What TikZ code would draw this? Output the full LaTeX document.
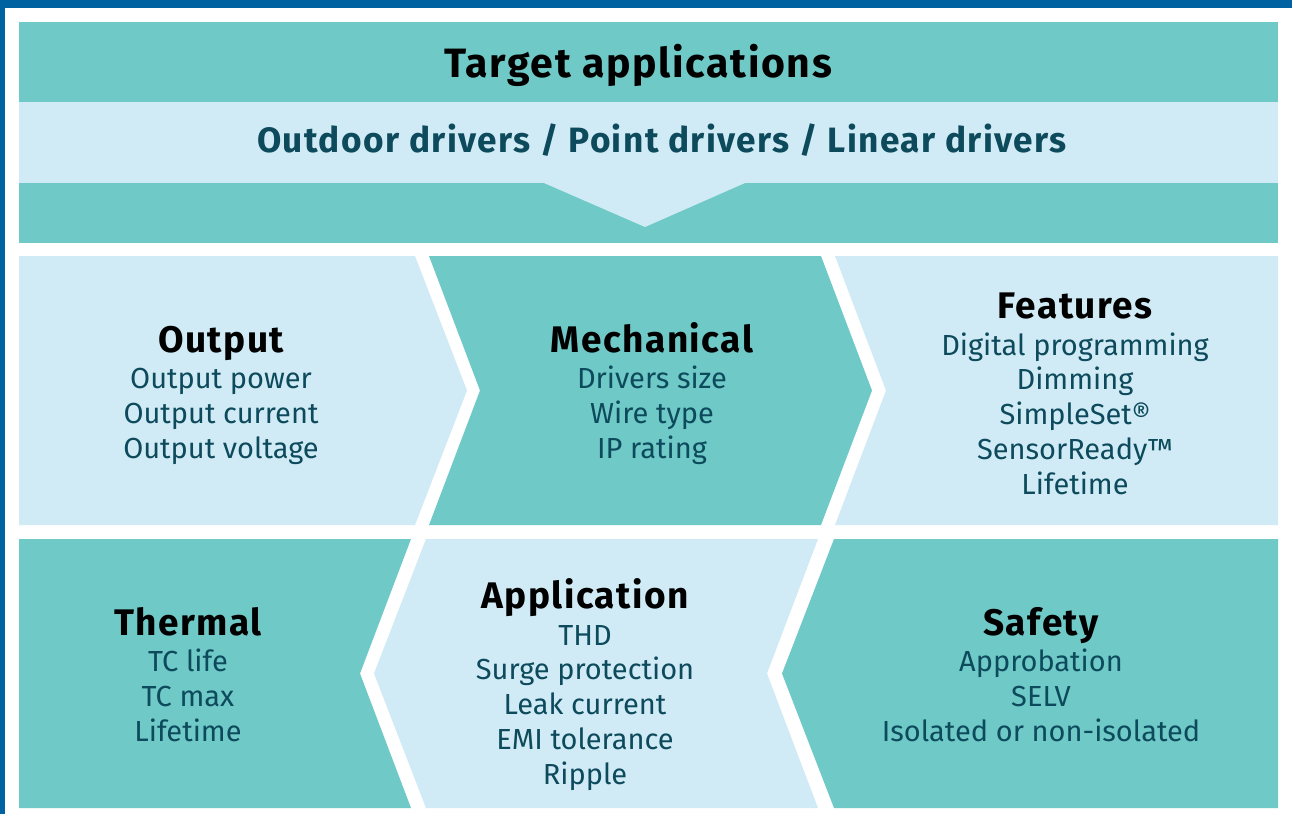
\documentclass[tikz,border=0pt]{standalone}
\usepackage{fontspec}
\setmainfont{Fira Sans}[BoldFeatures={LetterSpace=4}]
\usetikzlibrary{positioning}

\definecolor{teal}{HTML}{6FC9C7}
\definecolor{pale}{HTML}{D0EBF5}
\definecolor{frame}{HTML}{0062A0}
\definecolor{ink}{HTML}{0C4A5C}

\tikzset{
    head/.style={font=\fontsize{37}{40}\selectfont\bfseries, text=black, anchor=base},
    items/.style={font=\fontsize{29}{34.7}\selectfont, text=ink, align=center, anchor=base},
}

\begin{document}
\begin{tikzpicture}[x=1pt,y=-1pt]
        \useasboundingbox (0,0) rectangle (1292,814);
        \fill[white] (0,0) rectangle (1292,814);
        \fill[frame] (0,0) rectangle (1292,8);
        \fill[frame] (0,0) rectangle (5,814);

        \fill[teal] (19,22) rectangle (1278,102);
        \fill[pale] (19,102) rectangle (1278,183);
        \fill[teal] (19,183) rectangle (1278,243);
        \fill[pale] (544,183) -- (645,227) -- (745,183) -- cycle;

        \fill[pale] (19,256) -- (415,256) -- (467,390.5) -- (415,525) -- (19,525) -- cycle;
        \fill[teal] (429,256) -- (821,256) -- (872,390.5) -- (821,525) -- (429,525) -- (480,390.5) -- cycle;
        \fill[pale] (835,256) -- (1278,256) -- (1278,525) -- (835,525) -- (886,390.5) -- cycle;

        \fill[teal] (19,539) -- (411,539) -- (360,673.5) -- (411,808) -- (19,808) -- cycle;
        \fill[pale] (426,539) -- (818,539) -- (767,673.5) -- (818,808) -- (426,808) -- (374,673.5) -- cycle;
        \fill[teal] (834,539) -- (1278,539) -- (1278,808) -- (834,808) -- (782,673.5) -- cycle;

        \node[head, font=\fontsize{41}{44}\selectfont\bfseries] (title) at (638,77) {Target applications};
        \node[head, font=\fontsize{35.2}{38}\selectfont\bfseries, text=ink] (apps) at (662,152) {Outdoor drivers / Point drivers / Linear drivers};

        \node[head] (output) at (221,352) {Output};
        \node[items] (outputlist) at (221,458) {Output power\\Output current\\Output voltage};

        \node[head] (mech) at (652,352) {Mechanical};
        \node[items] (mechlist) at (652,458) {Drivers size\\Wire type\\IP rating};

        \node[head] (feat) at (1075,318) {Features};
        \node[items] (featlist) at (1075,494) {Digital programming\\Dimming\\SimpleSet®\\SensorReady™\\Lifetime};

        \node[head] (therm) at (188,635) {Thermal};
        \node[items] (thermlist) at (188,741) {TC life\\TC max\\Lifetime};

        \node[head] (appl) at (585,608) {Application};
        \node[items] (appllist) at (585,784) {THD\\Surge protection\\Leak current\\EMI tolerance\\Ripple};

        \node[head] (safety) at (1041,635) {Safety};
        \node[items] (safetylist) at (1041,741) {Approbation\\SELV\\Isolated or non-isolated};
\end{tikzpicture}
\end{document}
